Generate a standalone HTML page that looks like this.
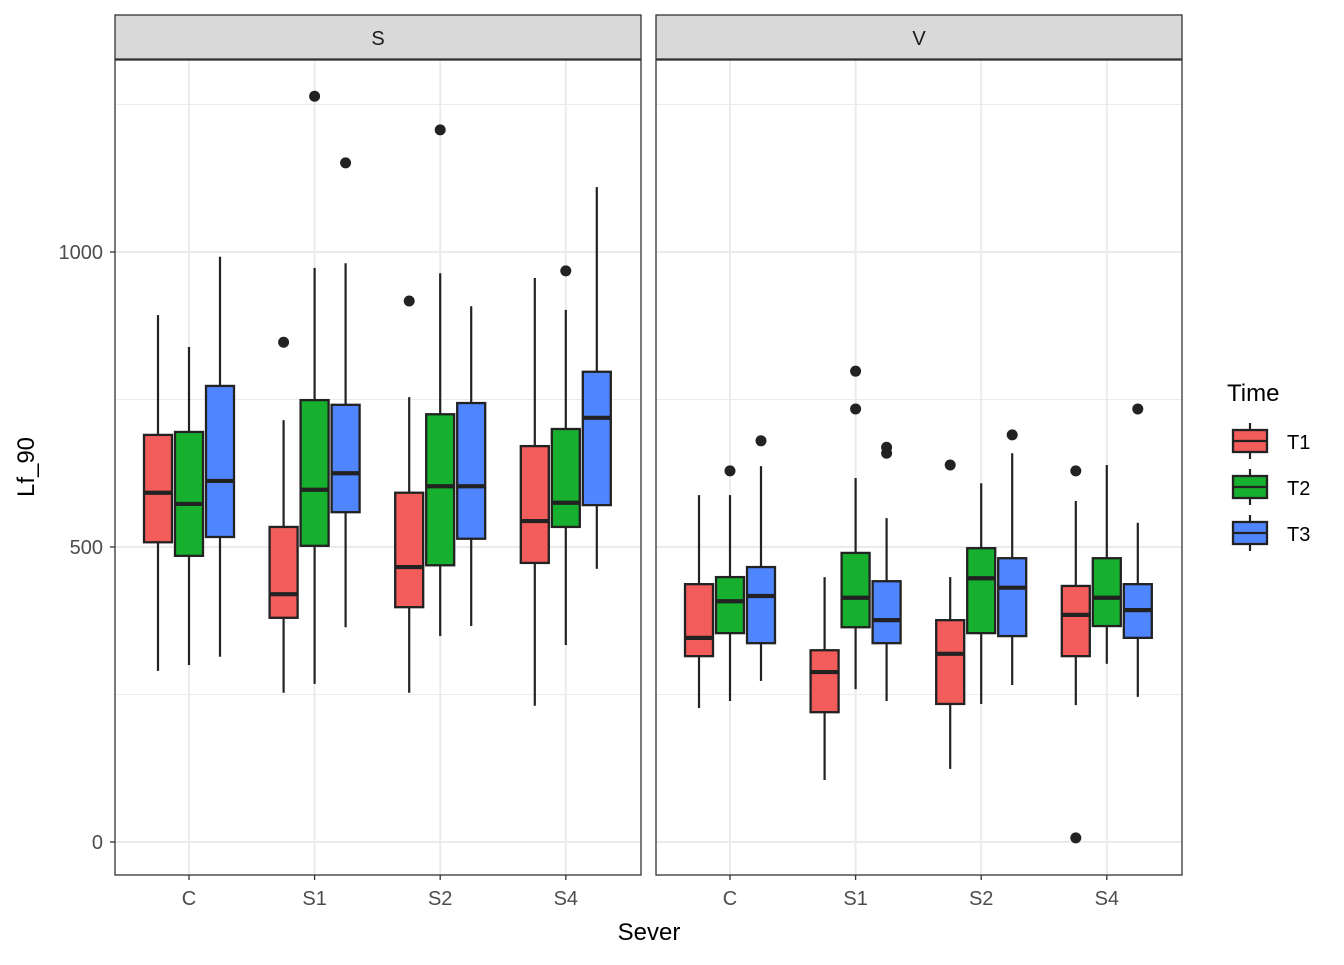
<!DOCTYPE html>
<html><head><meta charset="utf-8"><style>
body{margin:0;background:#fff}
svg text{font-family:"Liberation Sans",Arial,sans-serif}
</style></head><body>
<svg id="chart" width="1344" height="960" xmlns="http://www.w3.org/2000/svg">
<rect width="1344" height="960" fill="#fff"/>
<g id="root"></g>
</svg>
<script>
const facets = ["S","V"];
const categories = ["C","S1","S2","S4"];
const times = ["T1","T2","T3"];
const colors = ["#F25C5A","#16B02E","#4F86FF"];
const yTicks = [0,500,1000];
const yMinor = [250,750,1250];
// each box: [facet, cat, time, low, q1, med, q3, high]
const boxStats = [
 [0,0,0,290,508,592,690,893],[0,0,1,300,485,573,695,839],[0,0,2,314,517,612,773,992],
 [0,1,0,253,380,420,534,715],[0,1,1,268,502,597,749,973],[0,1,2,364,559,625,741,981],
 [0,2,0,253,398,466,592,754],[0,2,1,349,469,603,725,964],[0,2,2,366,514,603,744,908],
 [0,3,0,231,473,544,671,956],[0,3,1,334,534,575,700,902],[0,3,2,463,571,719,797,1110],
 [1,0,0,227,315,346,437,588],[1,0,1,239,354,408,449,588],[1,0,2,273,337,417,466,637],
 [1,1,0,105,220,288,325,449],[1,1,1,259,364,414,490,617],[1,1,2,239,337,376,442,549],
 [1,2,0,124,234,319,376,449],[1,2,1,234,354,447,498,608],[1,2,2,266,349,431,481,659],
 [1,3,0,232,315,385,434,578],[1,3,1,302,366,414,481,639],[1,3,2,246,346,393,437,541]
];
// outliers: [facet, cat, time, value]
const outliers = [
 [0,1,0,847],[0,1,1,1264],[0,1,2,1151],[0,2,0,917],[0,2,1,1207],[0,3,1,968],
 [1,0,1,629],[1,0,2,680],[1,1,1,798],[1,1,1,734],[1,1,2,669],[1,1,2,659],
 [1,2,0,639],[1,2,2,690],[1,3,0,629],[1,3,0,7],[1,3,2,734]
];
const NS="http://www.w3.org/2000/svg";
const root=document.getElementById('root');
function mk(t,a,p){const e=document.createElementNS(NS,t);for(const k in a)e.setAttribute(k,a[k]);(p||root).appendChild(e);return e;}
const panelX=[115,656], panelW=526, pTop=60, pBot=875;
const y=v=>842-0.59*v;
const xCat=(f,c)=>panelX[f]+74+c*125.6;
const dodge=31, bw=28, ink='#222';
facets.forEach((f,fi)=>{
  const px=panelX[fi];
  const g=mk('g',{});
  
  
  mk('rect',{x:px,y:pTop,width:panelW,height:pBot-pTop,fill:'#fff'},g);
  yMinor.forEach(v=>mk('line',{x1:px,x2:px+panelW,y1:y(v),y2:y(v),stroke:'#ebebeb','stroke-width':1},g));
  yTicks.forEach(v=>mk('line',{x1:px,x2:px+panelW,y1:y(v),y2:y(v),stroke:'#ebebeb','stroke-width':2},g));
  categories.forEach((c,ci)=>mk('line',{x1:xCat(fi,ci),x2:xCat(fi,ci),y1:pTop,y2:pBot,stroke:'#ebebeb','stroke-width':2},g));
  const strip=mk('rect',{x:px,y:15,width:panelW,height:44,fill:'#d9d9d9',stroke:'#333','stroke-width':1.3},g);
  
  
  const st=mk('text',{x:px+panelW/2,y:45,'text-anchor':'middle','font-size':20,fill:'#1a1a1a'},g);
  st.textContent=f;
  categories.forEach((c,ci)=>{
    const xt=xCat(fi,ci);
    mk('line',{x1:xt,x2:xt,y1:pBot,y2:pBot+5,stroke:'#333','stroke-width':1.3},g);
    const t=mk('text',{x:xt,y:905,'text-anchor':'middle','font-size':20,fill:'#4d4d4d'},g);
    
    
    t.textContent=c;
  });
});
boxStats.forEach(b=>{
  const [f,c,t,lo,q1,md,q3,hi]=b;
  const cx=xCat(f,c)+(t-1)*dodge;
  const g=mk('g',{});
  
  
  mk('line',{x1:cx,x2:cx,y1:y(hi),y2:y(q3),stroke:ink,'stroke-width':2.2},g);
  mk('line',{x1:cx,x2:cx,y1:y(q1),y2:y(lo),stroke:ink,'stroke-width':2.2},g);
  mk('rect',{x:cx-bw/2,y:y(q3),width:bw,height:y(q1)-y(q3),fill:colors[t],stroke:ink,'stroke-width':2.3},g);
  mk('line',{x1:cx-bw/2,x2:cx+bw/2,y1:y(md),y2:y(md),stroke:ink,'stroke-width':4.2},g);
});
outliers.forEach(o=>{
  const [f,c,t,v]=o;
  const p=mk('circle',{cx:xCat(f,c)+(t-1)*dodge,cy:y(v),r:5.5,fill:ink});
  
  
});
facets.forEach((f,fi)=>mk('rect',{x:panelX[fi],y:pTop,width:panelW,height:pBot-pTop,fill:'none',stroke:'#333','stroke-width':1.3}));
yTicks.forEach(v=>{
  mk('line',{x1:110,x2:115,y1:y(v),y2:y(v),stroke:'#333','stroke-width':1.3});
  const t=mk('text',{x:103,y:y(v)+7,'text-anchor':'end','font-size':20,fill:'#4d4d4d'});
  
  
  t.textContent=v;
});
const xt=mk('text',{x:649,y:940,'text-anchor':'middle','font-size':24,fill:'#000'});


xt.textContent='Sever';
const yt=mk('text',{x:34,y:467,'text-anchor':'middle','font-size':24,fill:'#000',transform:'rotate(-90 34 467)'});


yt.textContent='Lf_90';
const lg=mk('g',{});


const lt=mk('text',{x:1227,y:401,'font-size':24,fill:'#000'},lg);
lt.textContent='Time';
times.forEach((tm,i)=>{
  const cy=441+i*46;
  const e=mk('g',{},lg);
  
  
  mk('line',{x1:1250,x2:1250,y1:cy-18,y2:cy+18,stroke:ink,'stroke-width':2.2},e);
  mk('rect',{x:1233,y:cy-11,width:34,height:22,fill:colors[i],stroke:ink,'stroke-width':2.3},e);
  mk('line',{x1:1233,x2:1267,y1:cy,y2:cy,stroke:ink,'stroke-width':2.2},e);
  const t=mk('text',{x:1287,y:cy+8,'font-size':20,fill:'#000'},e);
  t.textContent=tm;
});
</script>
</body></html>
